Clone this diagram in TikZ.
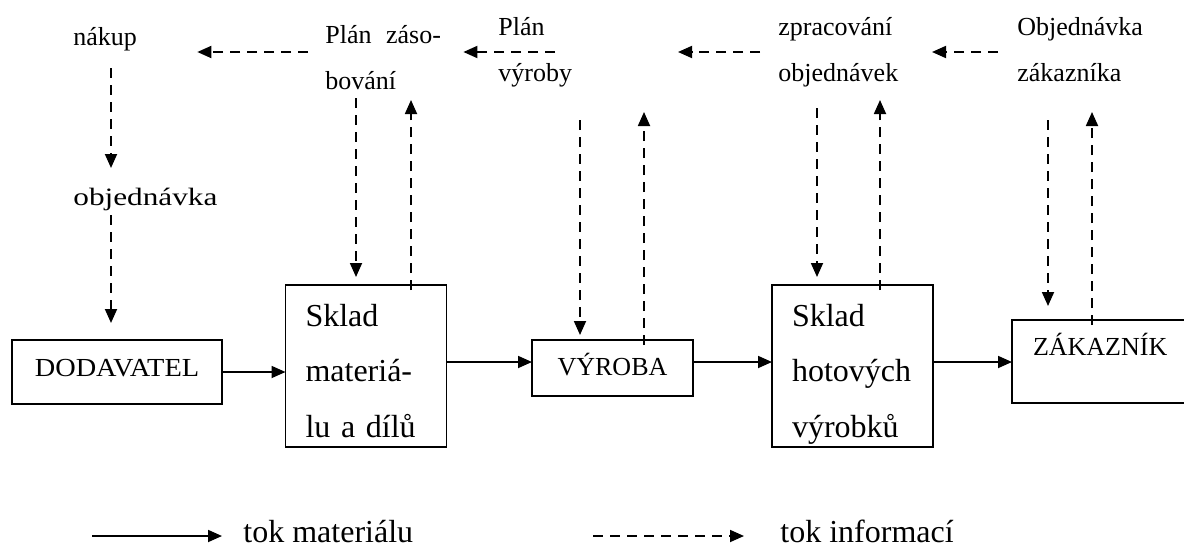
\documentclass[tikz,border=0pt]{standalone}
\usepackage{fontspec}
\setmainfont{Liberation Serif}
\newfontfamily\widefont[FakeStretch=1.25]{Liberation Serif}
\usetikzlibrary{arrows.meta}
\tikzset{mat/.style={-{Triangle[length=7pt,width=6pt]},line width=.9pt},
info/.style={mat,dash pattern=on 5pt off 3.5pt},
box/.style={draw,line width=.8pt,inner sep=0pt,outer sep=0pt,font=\fontsize{13}{15}\selectfont},
store/.style={box,anchor=north west,text width=60.5pt,align=left,inner xsep=10pt,inner ysep=5.5pt,
  text height=15pt,text depth=55pt,font=\fontsize{16}{27.75}\selectfont},
lab/.style={inner sep=0pt,anchor=base west,align=left,font=\fontsize{13}{23}\selectfont}}
\begin{document}
\begin{tikzpicture}[x=.5pt,y=-.5pt]
\useasboundingbox (0,0) rectangle (1184,546);
\node[lab] (nakup) at (73,46) {nákup};
\node[lab] (zas) at (325,89) {Plán\hspace{4pt} záso-\\bování};
\node[lab] (plan) at (498,81) {Plán\\výroby};
\node[lab] (zprac) at (778,81) {zpracování\\objednávek};
\node[lab] (objzak) at (1017,81) {Objednávka\\zákazníka};
\node[lab,font=\widefont\fontsize{12.5}{15}\selectfont] (objed) at (73,205) {objednávka};
\node[box,minimum width=105.25pt,minimum height=32pt,text depth=4pt,
  font=\fontsize{13}{15}\selectfont\addfontfeature{FakeStretch=1.09}] (dod) at (117,372) {DODAVATEL};
\node[store] (sklad) at (285.5,285) {Sklad\\materiá-\\lu a dílů};
\node[box,minimum width=80.5pt,minimum height=28pt,text height=8.6pt,text depth=1.5pt] (vyr) at (612.5,368) {VÝROBA};
\node[store] (hot) at (772,285) {Sklad\\hotových\\výrobků};
\node[box,anchor=north west,text width=71pt,align=left,inner xsep=10.5pt,inner ysep=4pt,
  text height=13.5pt,text depth=20pt] (zak) at (1012,320) {ZÁKAZNÍK};
\draw[mat] (dod.east) -- (dod.east -| sklad.west);
\draw[mat] ([yshift=2pt]sklad.east) coordinate (s1) -- (s1 -| vyr.west);
\draw[mat] ([yshift=3pt]vyr.east) coordinate (s2) -- (s2 -| hot.west);
\draw[mat] ([yshift=2pt]hot.east) coordinate (s3) -- (s3 -| zak.west);
\draw[info] ([shift={(-17,-37)}]zas.base west) -- ([shift={(60,6)}]nakup.base east);
\draw[info] ([shift={(57,-29)}]plan.base west) -- ([shift={(22,-37)}]zas.base east);
\draw[info] ([shift={(-18,-29)}]zprac.base west) -- ([shift={(180,-29)}]plan.base west);
\draw[info] ([shift={(-19,-29)}]objzak.base west) -- ([shift={(154,-29)}]zprac.base west);
\draw[info] ([shift={(38,22)}]nakup.base west) -- ([shift={(38,-37)}]objed.base west);
\draw[info] ([shift={(38,10)}]objed.base west) -- ([shift={(99.25,-17)}]dod.north west);
\draw[info] ([shift={(31,9)}]zas.base west) -- ([shift={(70.5,-8)}]sklad.north west);
\draw[info] ([shift={(125.5,5)}]sklad.north west) -- ([shift={(86,11)}]zas.base west);
\draw[info] ([shift={(82,39)}]plan.base west) -- ([shift={(48,-5)}]vyr.north west);
\draw[info] ([shift={(112,5)}]vyr.north west) -- ([shift={(146,31)}]plan.base west);
\draw[info] ([shift={(39,27)}]zprac.base west) -- ([shift={(45,-8)}]hot.north west);
\draw[info] ([shift={(108,5)}]hot.north west) -- ([shift={(102,19)}]zprac.base west);
\draw[info] ([shift={(31,39)}]objzak.base west) -- ([shift={(36,-14)}]zak.north west);
\draw[info] ([shift={(80,5)}]zak.north west) -- ([shift={(75,31)}]objzak.base west);
\coordinate (m0) at (92,536);
\coordinate (m1) at (222,536);
\draw[mat] (m0) -- (m1);
\node[lab,font=\fontsize{16}{18}\selectfont] (mleg) at (243,542) {tok materiálu};
\coordinate (i0) at (593,536);
\coordinate (i1) at (744,536);
\draw[info] (i0) -- (i1);
\node[lab,font=\fontsize{16}{18}\selectfont] (ileg) at (780,542) {tok informací};
\end{tikzpicture}
\end{document}
